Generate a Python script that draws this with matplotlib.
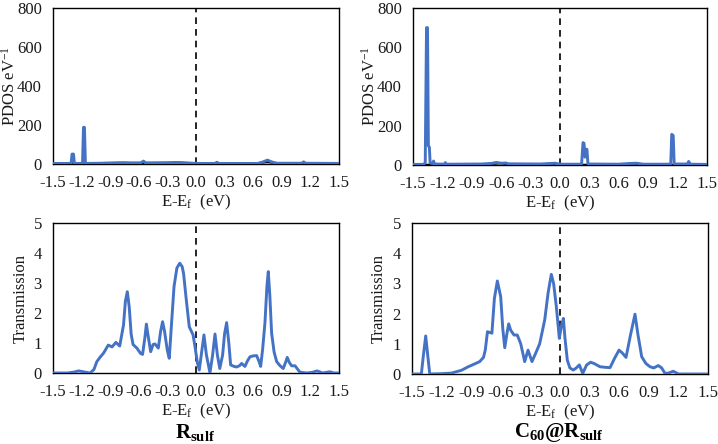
import matplotlib
matplotlib.use("Agg")
import matplotlib.pyplot as plt

plt.rcParams['font.family'] = ['Liberation Serif', 'DejaVu Serif']
plt.rcParams['mathtext.fontset'] = 'custom'
plt.rcParams['mathtext.rm'] = 'Liberation Serif'
plt.rcParams['mathtext.it'] = 'Liberation Serif:italic'
plt.rcParams['mathtext.bf'] = 'Liberation Serif:bold'

xticks = [-1.5, -1.2, -0.9, -0.6, -0.3, 0.0, 0.3, 0.6, 0.9, 1.2, 1.5]
xtick_labels = ["-1.5", "-1.2", "-0.9", "-0.6", "-0.3", "0.0", "0.3", "0.6", "0.9", "1.2", "1.5"]
pdos_yticks = [0, 200, 400, 600, 800]
trans_yticks = [0, 1, 2, 3, 4, 5]

# PDOS, R_sulf (blue) and underlying black curve
pdos_r_E = [-1.5, -1.31, -1.30, -1.285, -1.275, -1.19, -1.18, -1.17, -1.16, -1.0, -0.8, -0.7,
            -0.58, -0.55, -0.53, -0.3, -0.2, -0.1, 0.0, 0.2, 0.22, 0.24, 0.65, 0.70, 0.75,
            0.80, 0.85, 1.11, 1.13, 1.15, 1.5]
pdos_r_val = [3, 3, 51, 51, 3, 3, 188, 188, 3, 4, 7, 6,
              6, 15, 6, 7, 8, 6, 3, 3, 9, 3, 3, 10, 20,
              10, 4, 4, 11, 4, 3]
pdos_r_blk_E = [-1.5, -0.9, -0.75, -0.6, -0.45, -0.3, -0.2, -0.1, 0.0, 0.3, 0.6, 0.75, 0.85, 1.0, 1.5]
pdos_r_blk_val = [2, 3, 6, 4, 2, 5, 8, 5, 2, 1, 2, 10, 3, 1, 1]

# PDOS, C60@R_sulf
pdos_c_E = [-1.5, -1.39, -1.375, -1.362, -1.352, -1.343, -1.333, -1.325, -1.30, -1.29, -1.28,
            -1.18, -1.17, -1.16, -0.8, -0.7, -0.65, -0.6, -0.55, -0.53, -0.2, -0.05, 0.0,
            0.22, 0.235, 0.245, 0.255, 0.265, 0.275, 0.285, 0.6, 0.72, 0.78, 0.85,
            1.13, 1.14, 1.155, 1.165, 1.30, 1.313, 1.33, 1.5]
pdos_c_val = [3, 3, 12, 700, 700, 98, 90, 10, 8, 20, 5,
              4, 12, 4, 5, 8, 13, 9, 10, 6, 5, 9, 4,
              4, 114, 110, 40, 80, 80, 5, 4, 8, 9, 4,
              4, 156, 150, 5, 5, 18, 4, 3]
pdos_c_blk_E = [-1.5, -0.9, -0.7, -0.62, -0.5, -0.3, -0.1, 0.0, 0.3, 0.6, 0.75, 0.85, 1.0, 1.5]
pdos_c_blk_val = [1, 2, 5, 8, 3, 2, 6, 2, 1, 2, 7, 2, 1, 1]

# Transmission, R_sulf
trans_r_E = [-1.5, -1.35, -1.28, -1.23, -1.18, -1.11, -1.07, -1.04, -1.0, -0.97, -0.92, -0.88,
             -0.84, -0.80, -0.76, -0.74, -0.72, -0.70, -0.68, -0.66, -0.62, -0.58, -0.56,
             -0.535, -0.52, -0.505, -0.475, -0.45, -0.43, -0.395, -0.37, -0.35, -0.33, -0.30,
             -0.28, -0.255, -0.23, -0.20, -0.17, -0.145, -0.13, -0.10, -0.07, -0.03, -0.01,
             0.015, 0.035, 0.06, 0.084, 0.11, 0.147, 0.175, 0.20, 0.225, 0.25, 0.28, 0.30,
             0.322, 0.345, 0.364, 0.40, 0.427, 0.46, 0.479, 0.514, 0.54, 0.567, 0.60, 0.637,
             0.66, 0.679, 0.70, 0.724, 0.745, 0.759, 0.775, 0.794, 0.82, 0.847, 0.88, 0.916,
             0.94, 0.958, 0.98, 1.004, 1.04, 1.09, 1.16, 1.22, 1.27, 1.33, 1.405, 1.45, 1.5]
trans_r_val = [0, 0, 0.03, 0.07, 0.04, 0.0, 0.12, 0.38, 0.55, 0.66, 0.93, 0.87,
               1.02, 0.9, 1.6, 2.4, 2.71, 2.2, 1.3, 0.95, 0.83, 0.65, 0.62,
               1.2, 1.63, 1.3, 0.71, 0.95, 0.97, 0.83, 1.4, 1.71, 1.4, 0.75,
               0.49, 1.7, 2.88, 3.5, 3.66, 3.55, 3.32, 2.4, 1.54, 1.27, 0.88,
               0.35, 0.1, 0.7, 1.27, 0.6, 0.01, 0.6, 1.3, 0.6, 0.15, 0.6, 1.3,
               1.68, 1.0, 0.27, 0.22, 0.2, 0.25, 0.32, 0.22, 0.4, 0.54, 0.57, 0.58,
               0.4, 0.22, 0.8, 1.67, 2.9, 3.38, 2.6, 1.33, 0.7, 0.38, 0.25, 0.15,
               0.35, 0.52, 0.35, 0.24, 0.24, 0.03, 0.0, 0.02, 0.07, 0.0, 0.04, 0.0, 0.0]

# Transmission, C60@R_sulf
trans_c_E = [-1.5, -1.405, -1.385, -1.361, -1.34, -1.32, -1.2, -1.10, -1.0, -0.93, -0.86, -0.814,
             -0.775, -0.757, -0.735, -0.715, -0.69, -0.665, -0.635, -0.601, -0.58, -0.56, -0.54,
             -0.52, -0.50, -0.466, -0.433, -0.398, -0.358, -0.324, -0.284, -0.245, -0.206,
             -0.155, -0.12, -0.088, -0.065, -0.037, -0.007, 0.015, 0.034, 0.05, 0.074, 0.10,
             0.135, 0.165, 0.196, 0.23, 0.27, 0.311, 0.35, 0.405, 0.46, 0.507, 0.55, 0.598,
             0.63, 0.669, 0.715, 0.76, 0.79, 0.828, 0.87, 0.912, 0.95, 0.996, 1.03, 1.064,
             1.10, 1.148, 1.2, 1.5]
trans_c_val = [0, 0, 0.6, 1.26, 0.6, 0, 0.01, 0.03, 0.12, 0.24, 0.34, 0.41,
               0.55, 0.8, 1.4, 1.38, 1.35, 2.5, 3.08, 2.56, 1.5, 0.87, 1.3,
               1.66, 1.45, 1.29, 1.29, 1.0, 0.41, 0.79, 0.41, 0.7, 1.0,
               1.79, 2.7, 3.3, 3.0, 2.23, 1.18, 1.6, 1.84, 1.2, 0.46, 0.2,
               0.13, 0.2, 0.3, 0.02, 0.3, 0.39, 0.34, 0.24, 0.22, 0.21, 0.5, 0.79,
               0.7, 0.55, 1.3, 1.98, 1.3, 0.57, 0.35, 0.24, 0.2, 0.28, 0.2, 0.02,
               0.03, 0.09, 0.0, 0.0]

blue = '#4472C4'
fig = plt.figure(figsize=(7.18, 4.44), dpi=100)

ax_tl = fig.add_axes([0.0738, 0.6306, 0.3982, 0.3514])
ax_tr = fig.add_axes([0.5752, 0.6284, 0.4095, 0.3536])
ax_bl = fig.add_axes([0.0738, 0.1599, 0.3982, 0.3378])
ax_br = fig.add_axes([0.5738, 0.1577, 0.4123, 0.3400])

def style(ax, yticks, ylabel, ylab_x):
    ax.set_xlim(-1.5, 1.5)
    ax.set_ylim(yticks[0], yticks[-1])
    ax.set_xticks(xticks)
    ax.set_xticklabels(xtick_labels)
    ax.set_yticks(yticks)
    ax.tick_params(length=0, labelsize=12, pad=8, colors='#1a1a1a')
    ax.tick_params(axis='x', pad=8)
    for s in ax.spines.values():
        s.set_color('black')
        s.set_linewidth(1.0)
    ax.axvline(0, color='black', linestyle=(0, (4, 3)), linewidth=1.2, zorder=1)
    ax.set_xlabel(r"E-E$_{\mathrm{f}}$  (eV)", fontsize=12, labelpad=1, color='#1a1a1a')
    ax.set_ylabel(ylabel, fontsize=12, color='#1a1a1a')
    ax.yaxis.set_label_coords(ylab_x, 0.5)

ax_tl.plot(pdos_r_blk_E, pdos_r_blk_val, color='black', lw=1.5, zorder=2)
ax_tl.plot(pdos_r_E, pdos_r_val, color=blue, lw=2.1, zorder=3)
style(ax_tl, pdos_yticks, r"PDOS eV$^{-1}$", -0.12)

ax_tr.plot(pdos_c_blk_E, pdos_c_blk_val, color='black', lw=1.5, zorder=2)
ax_tr.plot(pdos_c_E, pdos_c_val, color=blue, lw=2.1, zorder=3)
style(ax_tr, pdos_yticks, r"PDOS eV$^{-1}$", -0.117)

ax_bl.plot(trans_r_E, trans_r_val, color=blue, lw=2.1, zorder=3)
style(ax_bl, trans_yticks, "Transmission", -0.085)

ax_br.plot(trans_c_E, trans_c_val, color=blue, lw=2.1, zorder=3)
style(ax_br, trans_yticks, "Transmission", -0.085)

fig.text(0.272, 0.027, r"$\mathbf{R_{sulf}}$", ha='center', va='center', fontsize=15)
fig.text(0.779, 0.027, r"$\mathbf{C_{60}@R_{sulf}}$", ha='center', va='center', fontsize=15)

fig.savefig("out.png", dpi=100)
